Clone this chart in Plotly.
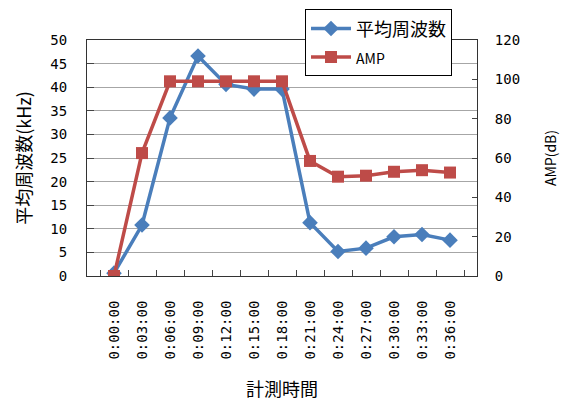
import plotly.graph_objects as go

times = ["0:00:00", "0:03:00", "0:06:00", "0:09:00", "0:12:00", "0:15:00", "0:18:00",
         "0:21:00", "0:24:00", "0:27:00", "0:30:00", "0:33:00", "0:36:00"]
freq_khz = [0.6, 10.8, 33.5, 46.6, 40.6, 39.6, 39.6, 11.3, 5.2, 5.9, 8.3, 8.8, 7.6]
amp_db = [0, 62.5, 99, 99, 99, 99, 99, 58.5, 50.5, 51, 53, 53.8, 52.6]

left_ticks = list(range(0, 51, 5))
right_ticks = list(range(0, 121, 20))

BLUE = "#4A7EBB"
RED = "#BE4B48"
FONT = "Noto Sans CJK JP"
MONO = "DejaVu Sans Mono"

fig = go.Figure()
fig.add_trace(go.Scatter(
    x=times, y=freq_khz, name="平均周波数", mode="lines+markers",
    line=dict(color=BLUE, width=3.5),
    marker=dict(symbol="diamond", size=12, color=BLUE),
    legendgroup="a", yaxis="y"))
fig.add_trace(go.Scatter(
    x=times, y=amp_db, name="<span style='font-size:14px'>AMP</span>",
    mode="lines+markers",
    line=dict(color=RED, width=3.5),
    marker=dict(symbol="square", size=12, color=RED),
    legendgroup="b", yaxis="y2"))

fig.update_layout(
    width=561, height=401,
    margin=dict(l=87, r=84, t=40, b=125, autoexpand=False),
    paper_bgcolor="white", plot_bgcolor="white",
    font=dict(family=FONT, color="black", size=12),
    showlegend=True,
    legend=dict(x=0.559, y=1.13, xanchor="left", yanchor="top",
                bgcolor="white", bordercolor="black", borderwidth=1,
                font=dict(size=18, family=FONT), tracegroupgap=2,
                itemwidth=40),
    xaxis=dict(type="category", tickangle=-90, ticks="inside", ticklen=6,
               tickson="boundaries", showline=True, linecolor="#333333", linewidth=1,
               mirror=True, showgrid=False, tickfont=dict(size=14, family=MONO),
               ticklabelstandoff=18,
               title=dict(text="計測時間", font=dict(size=18), standoff=27)),
    yaxis=dict(range=[0, 50], tickvals=left_ticks, ticks="inside", ticklen=7,
               showline=True, linecolor="#333333", linewidth=1,
               showgrid=True, gridcolor="#A6A6A6", gridwidth=1, zeroline=False,
               tickfont=dict(size=14, family=MONO), ticklabelstandoff=16,
               title=dict(text="平均周波数(kHz)", font=dict(size=18), standoff=14)),
    yaxis2=dict(range=[0, 120], tickvals=right_ticks, overlaying="y", side="right",
                ticks="inside", ticklen=5, showline=True, linecolor="#333333",
                linewidth=1, showgrid=False, zeroline=False,
                tickfont=dict(size=14, family=MONO), ticklabelstandoff=14,
                title=dict(text="AMP(dB)", font=dict(size=14), standoff=27)),
)

fig.write_html("out.html", config={"displayModeBar": False},
               post_script="document.body.style.margin='0';")
